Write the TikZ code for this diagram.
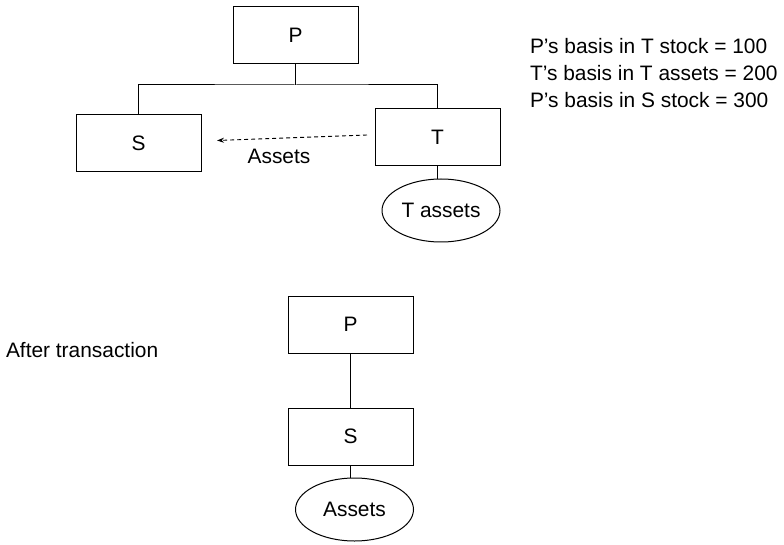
\documentclass[tikz,border=0pt]{standalone}
\usepackage{fontspec}
\setmainfont{Liberation Sans}
\usetikzlibrary{shapes.geometric,arrows.meta}
\begin{document}
\begin{tikzpicture}[x=1pt,y=-1pt,
  every node/.style={font=\fontsize{20.9}{25}\selectfont, inner sep=0pt, outer sep=0pt},
  entity/.style={draw, line width=1pt, minimum width=125pt, minimum height=57pt},
  holding/.style={draw, ellipse, line width=1pt, minimum width=118pt, minimum height=63pt},
  link/.style={line width=1pt},
  transfer/.style={line width=0.9pt, dash pattern=on 4pt off 3pt, -{Stealth[length=7pt,width=5pt]}},
  note/.style={anchor=base west}]
  \useasboundingbox (0,0) rectangle (784,545);

  % structure before the transaction
  \node[entity] (P) at (295.5,35) {P};
  \node[entity] (S) at (138.5,143.5) {S};
  \node[entity] (T) at (437.5,137) {T};
  \node[holding] (TA) at (441,210.5) {T assets};
  \coordinate (J) at (295.5,85);
  \draw[link] (P.south) -- (J);
  \draw[link] (S.north) |- (J) -| (T.north);
  \draw[link] (T.south) -- (T.south |- TA.north);

  % transfer of T's assets to S
  \coordinate (from) at (367,135);
  \coordinate (to) at (217,140.5);
  \draw[transfer] (from) -- (to);
  \node (lbl) at (279,156) {Assets};

  % basis figures
  \node[note] (b1) at (530,54) {P’s basis in T stock = 100};
  \node[note] (b2) at (530,81) {T’s basis in T assets = 200};
  \node[note] (b3) at (530,108) {P’s basis in S stock = 300};

  % structure after the transaction
  \node[note] (after) at (6,357) {After transaction};
  \node[entity] (P2) at (350.5,324.5) {P};
  \node[entity] (S2) at (350.5,436.5) {S};
  \node[holding] (A2) at (354.5,509.5) {Assets};
  \draw[link] (P2.south) -- (S2.north);
  \draw[link] (S2.south) -- (S2.south |- A2.north);
\end{tikzpicture}
\end{document}
